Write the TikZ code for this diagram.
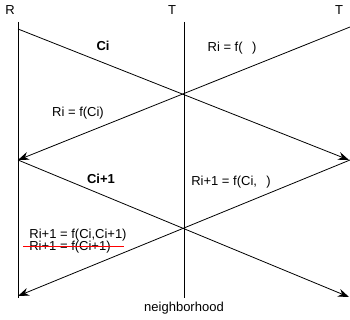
\documentclass[tikz,border=0pt]{standalone}
\usepackage{fontspec}
\setmainfont{Liberation Sans}
\usetikzlibrary{arrows.meta}
\begin{document}
\begin{tikzpicture}[x=1pt,y=1pt,
  lbl/.style={inner sep=0pt,font=\fontsize{13}{15}\selectfont},
  boldlbl/.style={lbl,font=\fontsize{13}{15}\selectfont\bfseries},
  life/.style={line width=0.8pt},
  msg/.style={line width=0.8pt,-{Stealth[length=11pt,width=8pt]}}]
\useasboundingbox (0,0) rectangle (350,320);
% headers
\node[lbl] (R) at (10,310) {R};
\node[lbl] (T1) at (172,310) {T};
\node[lbl] (T2) at (339,310) {T};
% lifelines
\coordinate (Ltop) at (18,298);
\coordinate (Lbot) at (18,22);
\coordinate (Mtop) at (184,298);
\coordinate (Mbot) at (184,22);
\draw[life] (Ltop) -- (Lbot);
\draw[life] (Mtop) -- (Mbot);
% message points
\coordinate (A1) at (18,291);
\coordinate (B1) at (349,160);
\coordinate (A2) at (350,293);
\coordinate (B2) at (18,160);
\coordinate (A3) at (18,160);
\coordinate (B3) at (349,23);
\coordinate (A4) at (350,160);
\coordinate (B4) at (18,24);
\draw[msg] (A1) -- (B1);
\draw[msg] (A2) -- (B2);
\draw[msg] (A3) -- (B3);
\draw[msg] (A4) -- (B4);
% labels
\node[boldlbl] (ci) at (103,274) {Ci};
\node[lbl] (r1) at (232,272) {Ri = f(\hphantom{C})};
\node[lbl] (r2) at (78,207) {Ri = f(Ci)};
\node[boldlbl] (ci1) at (101,141) {Ci+1};
\node[lbl] (r3) at (231,138) {Ri+1 = f(Ci,\hphantom{C})};
\node[lbl,anchor=base] (r4) at (78,81) {Ri+1 = f(Ci,Ci+1)};
\node[lbl,anchor=base] (r5) at (70,69) {Ri+1 = f(Ci+1)};
\coordinate (s1) at (23,73.5);
\coordinate (s2) at (124,73.5);
\draw[red,line width=1.2pt] (s1) -- (s2);
\node[lbl] (nb) at (184,12) {neighborhood};
\end{tikzpicture}
\end{document}
